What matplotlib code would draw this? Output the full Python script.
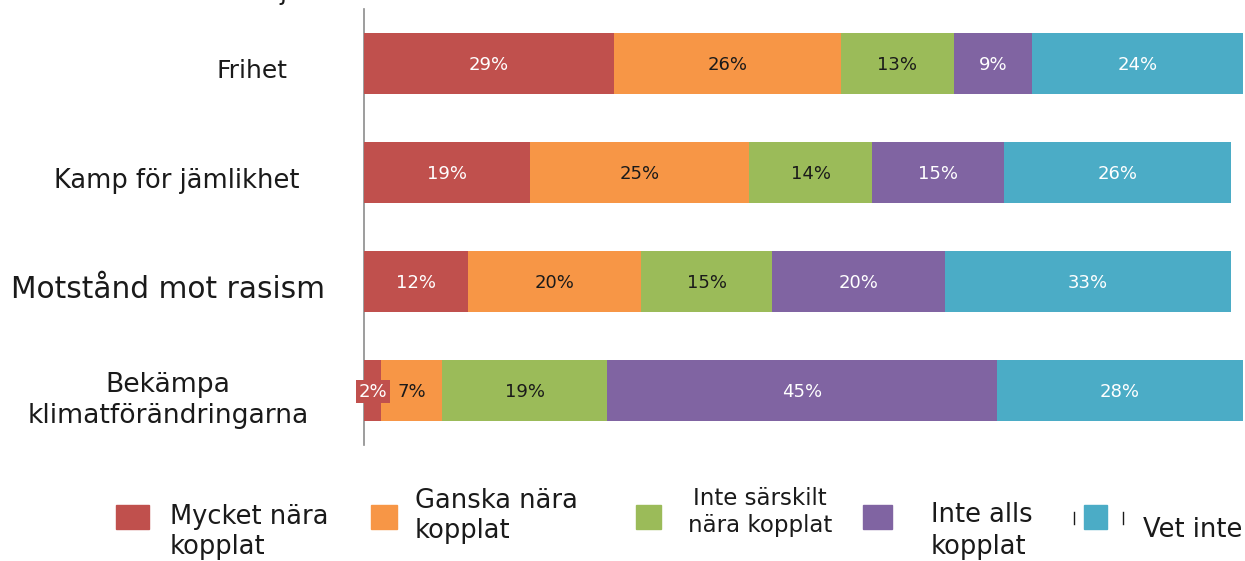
import numpy as np
import matplotlib.pyplot as plt
from matplotlib.patches import Rectangle

plt.rcParams['font.family'] = ['DejaVu Sans']

# data (bar widths, labels are the rounded values)
categories = ['Frihet', 'Kamp för jämlikhet', 'Motstånd mot rasism',
              'Bekämpa\nklimatförändringarna']
series = ['Mycket nära\nkopplat', 'Ganska nära\nkopplat',
          'Inte särskilt\nnära kopplat', 'Inte alls\nkopplat', 'Vet inte']
mycket = [28.9, 19.2, 12.0, 2.0]
ganska = [26.2, 25.3, 20.0, 7.0]
inte_sarskilt = [13.0, 14.2, 15.1, 19.1]
inte_alls = [9.0, 15.2, 20.0, 45.0]
vet_inte = [24.4, 26.2, 33.0, 28.4]
values = [mycket, ganska, inte_sarskilt, inte_alls, vet_inte]

colors = ['#C0504D', '#F79646', '#9BBB59', '#8064A2', '#4BACC6']
label_colors = ['white', '#1a1a1a', '#1a1a1a', 'white', 'white']

W, H = 1245, 561
fig = plt.figure(figsize=(W / 100, H / 100), dpi=100)
ax = fig.add_axes([364 / W, (H - 445) / H, 866 / W, 436 / H])

y = np.arange(len(categories))
left = np.zeros(len(categories))
for vals, col, lc in zip(values, colors, label_colors):
    vals = np.array(vals, dtype=float)
    bars = ax.barh(y, vals, left=left, height=0.56, color=col,
                   edgecolor='none', clip_on=False, zorder=2)
    for b, v in zip(bars, vals):
        cx = b.get_x() + b.get_width() / 2
        cy = b.get_y() + b.get_height() / 2 + 0.01
        if v < 4:
            # tiny segment: label gets its own box
            ax.text(cx, cy, f'{v:.0f}%', ha='center', va='center',
                    color='white', fontsize=13, zorder=4,
                    bbox=dict(boxstyle='square,pad=0.14', fc=col, ec='none'))
        else:
            ax.text(cx, cy, f'{v:.0f}%', ha='center', va='center',
                    color=lc, fontsize=13, zorder=4)
    left += vals

ax.set_xlim(0, 100)
ax.set_ylim(3.5, -0.5)
ax.set_xticks([])
ax.set_yticks([])
for s in ['top', 'right', 'bottom']:
    ax.spines[s].set_visible(False)
ax.spines['left'].set_color('#8c8c8c')
ax.spines['left'].set_linewidth(1.2)
ax.spines['left'].set_zorder(1)

# category labels, placed one by one like the original
lab_x = [-0.129, -0.216, -0.2263, -0.2263]
lab_dy = [0.07, 0.08, 0.07, 0.09]
lab_fs = [18, 18.5, 21.3, 19.2]
trans = ax.get_yaxis_transform()
for i, cat in enumerate(categories):
    ax.text(lab_x[i], y[i] + lab_dy[i], cat, transform=trans, ha='center',
            va='center', fontsize=lab_fs[i], color='#1a1a1a',
            linespacing=1.25, multialignment='center')

# cut-off text at the very top
fig.text(283 / W, 1.0, 'j', ha='center', va='baseline', fontsize=18,
         color='#1a1a1a')

# legend, hand-placed
sq_x = [116, 371, 636, 863, 1084]
sq_w = [33, 26, 25, 29, 23]
txt_x = [170, 415, 760, 931, 1143]
txt_y = [532, 516, 512, 531, 530]
txt_fs = [18.5, 18.5, 16.5, 18.5, 18.5]
txt_ha = ['left', 'left', 'center', 'left', 'left']
for i, name in enumerate(series):
    fig.patches.append(Rectangle((sq_x[i] / W, (H - 529) / H), sq_w[i] / W,
                                 24 / H, transform=fig.transFigure,
                                 color=colors[i]))
    fig.text(txt_x[i] / W, (H - txt_y[i]) / H, name, ha=txt_ha[i],
             va='center', fontsize=txt_fs[i], color='#1a1a1a',
             linespacing=1.25,
             multialignment='center' if txt_ha[i] == 'center' else 'left')
# small marks beside the last legend key
for mx in [1074, 1123]:
    fig.lines.append(plt.Line2D([mx / W, mx / W], [(H - 512) / H, (H - 524) / H],
                                transform=fig.transFigure, color='#1a1a1a', lw=1))

fig.savefig('out.png', dpi=100)
